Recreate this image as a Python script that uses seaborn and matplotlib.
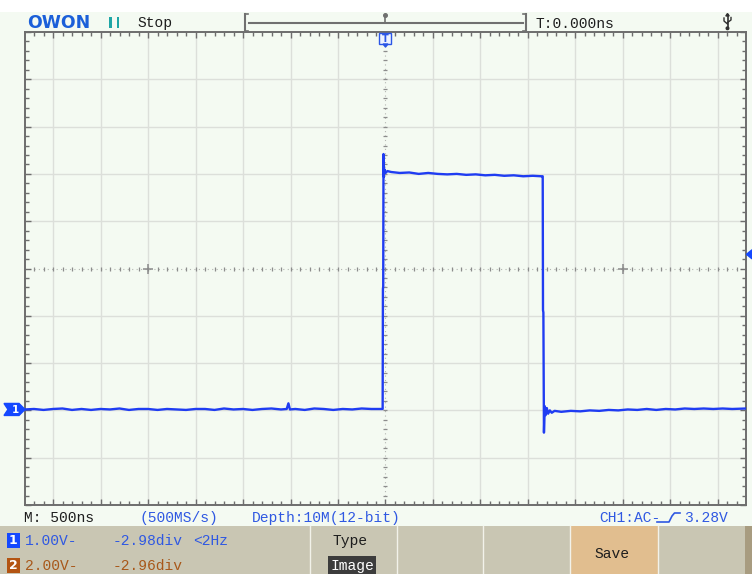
import numpy as np
import pandas as pd
import matplotlib
matplotlib.use("Agg")
import matplotlib.pyplot as plt
import seaborn as sns
from matplotlib.patches import Rectangle, Polygon, Circle

# ---- acquisition / channel settings -------------------------------------
time_per_div_ns = 500
ch1_volts_per_div = 1.00
ch1_offset_div = -2.98
ch2_volts_per_div = 2.00
ch2_offset_div = -2.96
trigger_level_v = 3.28
trigger_time_ns = 0.0

# ---- captured CH1 waveform (time in ns relative to trigger, volts) -------
trace_t_ns = [
    -3795, -3700, -3600, -3500, -3400, -3300, -3200, -3100, -3000, -2900,
    -2800, -2700, -2600, -2500, -2400, -2300, -2200, -2100, -2000, -1900,
    -1800, -1700, -1600, -1500, -1400, -1300, -1200, -1100, -1040, -1022,
    -1006, -950, -850, -750, -650, -550, -450, -350, -250, -150, -60, -30,
    -27, -24, -21, -18, -12, 0, 20, 60, 150, 250, 350, 450, 550, 650, 750,
    850, 950, 1050, 1150, 1250, 1350, 1450, 1550, 1640, 1655, 1658, 1662,
    1668, 1676, 1686, 1698, 1712, 1730, 1750, 1780, 1850, 1950, 2050, 2150,
    2250, 2350, 2450, 2550, 2650, 2750, 2850, 2950, 3050, 3150, 3250, 3350,
    3450, 3550, 3650, 3795,
]
trace_v = [
    0.00, 0.01, -0.01, 0.01, 0.02, -0.01, 0.01, -0.01, 0.01, 0.00,
    0.02, -0.01, 0.01, 0.01, -0.01, 0.01, 0.00, -0.01, 0.01, 0.01,
    -0.01, 0.02, 0.00, 0.01, -0.01, 0.01, 0.02, 0.00, 0.01, 0.13,
    0.00, 0.01, -0.01, 0.02, 0.01, -0.01, 0.01, 0.00, 0.02, 0.01, 0.01, 0.01,
    2.55, 2.60, 5.40, 4.92, 5.08, 5.00, 5.04, 5.02, 5.00, 5.01, 4.98, 5.00, 4.98, 4.97, 4.98,
    4.96, 4.97, 4.95, 4.96, 4.94, 4.95, 4.93, 4.94, 4.93, 4.93, 2.10, 2.05,
    -0.49, 0.07, -0.12, 0.03, -0.09, -0.02, -0.07, -0.03, -0.05, -0.03, -0.04, -0.02,
    -0.03, -0.01, -0.02, 0.00, -0.01, 0.01, -0.01, 0.01, 0.00, 0.02, 0.01, 0.02,
    0.01, 0.02, 0.01, 0.02,
]

# ---- screen text ---------------------------------------------------------
brand_label = "OWON"
run_state_label = "Stop"
trigger_time_label = "T:0.000ns"
timebase_label = "M: 500ns"
rate_label = "(500MS/s)"
depth_label = "Depth:10M(12-bit)"
trig_source_label = "CH1:AC-"
trig_level_label = "3.28V"
ch1_scale_label = "1.00V-"
ch1_offset_label = "-2.98div"
ch1_bw_label = "<2Hz"
ch2_scale_label = "2.00V-"
ch2_offset_label = "-2.96div"
menu_title_label = "Type"
menu_value_label = "Image"
save_label = "Save"

# ---- screen geometry in divisions ---------------------------------------
half_width_div = 7.59
half_height_div = 5

# ---- colours --------------------------------------------------------------
BG = "#f4faf2"
PANEL = "#c9c6b3"
SAVE_BOX = "#e1be8f"
DARK_STRIP = "#a89c80"
BORDER = "#6d6d6d"
GRID = "#dcdfda"
TRACE = "#1f3cf2"
BLUE_TXT = "#2f58e2"
BROWN_TXT = "#a8581a"
DARK_TXT = "#1e1e1e"
CH1_BOX = "#1448ff"
CH2_BOX = "#b35412"
MONO = ["Liberation Mono", "DejaVu Sans Mono"]

W, H = 752, 574
fig = plt.figure(figsize=(W / 100, H / 100), dpi=100, facecolor=BG)

# background layer in pixel coordinates
bg = fig.add_axes([0, 0, 1, 1], zorder=0)
bg.set_xlim(0, W); bg.set_ylim(H, 0); bg.axis("off")
bg.add_patch(Rectangle((0, 0), W, 12, color="white", lw=0))
bg.add_patch(Rectangle((0, 526), W, H - 526, color=PANEL, lw=0))
bg.add_patch(Rectangle((570, 526), 88, H - 526, color=SAVE_BOX, lw=0))
bg.add_patch(Rectangle((745, 526), 7, H - 526, color=DARK_STRIP, lw=0))
for sx in (309.5, 396.5, 483, 570, 657.5):
    bg.plot([sx, sx], [526, H], color="#f2f2ea", lw=1.0)
bg.add_patch(Rectangle((328, 556), 48, H - 556, color="#3c3c3c", lw=0))

# ---- waveform area -------------------------------------------------------
ax = fig.add_axes([25 / W, (H - 505) / H, 721 / W, 473 / H], zorder=1)
ax.set_facecolor(BG)
x_lim = half_width_div * time_per_div_ns
ax.set_xlim(-x_lim, x_lim)
ax.set_ylim(-half_height_div, half_height_div)

major_x = np.arange(-7, 8) * time_per_div_ns
minor_x = np.arange(-37, 38) * time_per_div_ns / 5
major_y = np.arange(-half_height_div, half_height_div + 1)
minor_y = np.arange(-25, 26) / 5

for gx in major_x:
    if gx != 0:
        ax.axvline(gx, color=GRID, lw=1.0, zorder=0.5)
for gy in major_y[1:-1]:
    if gy != 0:
        ax.axhline(gy, color=GRID, lw=1.0, zorder=0.5)

# centre cross-hair: dotted with fine graduations
ax.plot([-x_lim, x_lim], [0, 0], ls=(0, (1, 3)), color="#b4b6b2", lw=0.8, zorder=0.6)
ax.plot([0, 0], [-5, 5], ls=(0, (1, 3)), color="#b4b6b2", lw=0.8, zorder=0.6)
ax.plot(minor_x, np.zeros_like(minor_x), ls="none", marker="|", ms=3.2,
        mew=0.9, color="#8c8c8c", zorder=0.7)
ax.plot(np.zeros_like(minor_y), minor_y, ls="none", marker="_", ms=3.2,
        mew=0.9, color="#8c8c8c", zorder=0.7)
ax.plot([-5 * time_per_div_ns, 5 * time_per_div_ns], [0, 0], ls="none",
        marker="+", ms=7, mew=1.1, color="#8a8a8a", zorder=0.7)

df = pd.DataFrame({
    "t": trace_t_ns,
    "div": np.array(trace_v) / ch1_volts_per_div + ch1_offset_div,
})
sns.lineplot(data=df, x="t", y="div", sort=False, estimator=None,
             color=TRACE, linewidth=1.7, ax=ax, legend=False, zorder=3)
ax.set_xlabel(""); ax.set_ylabel("")

ax.set_xticks(major_x)
ax.set_xticks(minor_x, minor=True)
ax.set_yticks(major_y)
ax.set_yticks(minor_y, minor=True)
ax.tick_params(which="both", direction="in", top=True, right=True,
               bottom=True, left=True, labelbottom=False, labelleft=False,
               color=BORDER, width=1.0)
ax.tick_params(which="major", length=4.5)
ax.tick_params(which="minor", length=3)
for sp in ax.spines.values():
    sp.set_color(BORDER); sp.set_linewidth(1.4)


def to_px(x, y):
    d = ax.transData.transform((x, y))
    return d[0], H - d[1]


# ---- foreground layer (markers, status text) ----------------------------
fg = fig.add_axes([0, 0, 1, 1], zorder=3)
fg.set_xlim(0, W); fg.set_ylim(H, 0); fg.axis("off"); fg.patch.set_alpha(0)

fg.text(27, 28, brand_label, fontsize=12.5, fontweight="heavy",
        color="#1b5fd9", family="DejaVu Sans", va="baseline", ha="left")
fg.add_patch(Rectangle((109.3, 17.3), 2.8, 11, color="#1fa6a6", lw=0))
fg.add_patch(Rectangle((116.5, 17.3), 2.8, 11, color="#1fa6a6", lw=0))

mono = dict(family=MONO, fontsize=10.5, va="baseline", ha="left")
fg.text(137, 27.5, run_state_label, color=DARK_TXT, **mono)
fg.text(535, 27.5, trigger_time_label, color=DARK_TXT, **mono)

# horizontal position bar
bar_c = "#707070"
fg.plot([244.5, 244.5], [14, 30.5], color=bar_c, lw=1.5)
fg.plot([244.5, 248], [14, 14], color=bar_c, lw=1.2)
fg.plot([244.5, 248], [30.5, 30.5], color=bar_c, lw=1.2)
fg.plot([249, 522.5], [22.5, 22.5], color=bar_c, lw=1.5)
fg.plot([526, 526], [14, 30.5], color=bar_c, lw=1.5)
fg.plot([522.5, 526], [14, 14], color=bar_c, lw=1.2)
fg.plot([522.5, 526], [30.5, 30.5], color=bar_c, lw=1.2)
trig_x_px, _ = to_px(trigger_time_ns, 0)
fg.plot([trig_x_px, trig_x_px], [15.5, 22.5], color=bar_c, lw=1.2)
fg.add_patch(Circle((trig_x_px, 15.5), 1.8, color=bar_c))

# USB icon
uc = "#303030"
fg.plot([727.5, 727.5], [15, 28], color=uc, lw=1.2)
fg.plot([724, 724, 727.5], [18, 21, 24], color=uc, lw=1.0)
fg.plot([731, 731, 727.5], [17.5, 20, 22.5], color=uc, lw=1.0)
fg.add_patch(Polygon([(725.8, 16), (729.2, 16), (727.5, 13.5)], color=uc))
fg.add_patch(Circle((727.5, 28.3), 1.3, color=uc))

# trigger-time marker below the top border
fg.add_patch(Rectangle((trig_x_px - 6, 33), 12, 11, facecolor="#eef3ff",
                       edgecolor="#2b56e6", lw=1.0))
fg.text(trig_x_px, 38.8, "T", color="#2b56e6", fontsize=7, fontweight="bold",
        ha="center", va="center", family="DejaVu Sans")
fg.add_patch(Polygon([(trig_x_px - 2.5, 44), (trig_x_px + 2.5, 44),
                      (trig_x_px, 47)], color="#2b56e6"))

# CH1 ground marker on the left
_, gnd_y = to_px(0, ch1_offset_div)
fg.add_patch(Polygon([(4, gnd_y - 6), (19, gnd_y - 6), (25, gnd_y),
                      (19, gnd_y + 6), (4, gnd_y + 6), (8, gnd_y)],
                     color=CH1_BOX))
fg.text(15, gnd_y + 0.5, "1", color="white", fontsize=7.5, fontweight="bold",
        ha="center", va="center", family="DejaVu Sans")

# trigger level marker on the right
_, lvl_y = to_px(0, trigger_level_v / ch1_volts_per_div + ch1_offset_div)
fg.add_patch(Polygon([(746.5, lvl_y), (752, lvl_y - 4.5), (752, lvl_y + 4.5)],
                     color=CH1_BOX))

# status row under the graticule
fg.text(24, 522.3, timebase_label, color=DARK_TXT, **mono)
fg.text(140, 522.3, rate_label, color=BLUE_TXT, **mono)
fg.text(251.5, 522.3, depth_label, color=BLUE_TXT, **mono)
fg.text(599, 522.3, trig_source_label, color=BLUE_TXT, **mono)
fg.plot([657, 669, 672, 674.5, 680], [522, 522, 516, 513, 513],
        color=BLUE_TXT, lw=1.2)
fg.text(684, 522.3, trig_level_label, color=BLUE_TXT, **mono)

# channel rows
fg.add_patch(Rectangle((6.7, 533), 13.3, 14.5, color=CH1_BOX, lw=0))
fg.text(13.4, 540.5, "1", color="white", fontsize=9, fontweight="bold",
        ha="center", va="center", family="DejaVu Sans")
fg.text(25, 545, ch1_scale_label, color=BLUE_TXT, **mono)
fg.text(113, 545, ch1_offset_label, color=BLUE_TXT, **mono)
fg.text(193, 545, ch1_bw_label, color=BLUE_TXT, **mono)

fg.add_patch(Rectangle((6.7, 558), 13.3, 14.5, color=CH2_BOX, lw=0))
fg.text(13.4, 565.5, "2", color="white", fontsize=9, fontweight="bold",
        ha="center", va="center", family="DejaVu Sans")
fg.text(25, 570, ch2_scale_label, color=BROWN_TXT, **mono)
fg.text(113, 570, ch2_offset_label, color=BROWN_TXT, **mono)

# menu
fg.text(332.5, 545.5, menu_title_label, color=DARK_TXT, **mono)
fg.text(330, 570, menu_value_label, color="white", **mono)
fg.text(594, 558, save_label, color=DARK_TXT, **mono)

fig.savefig("out.png", dpi=100, facecolor=BG)
